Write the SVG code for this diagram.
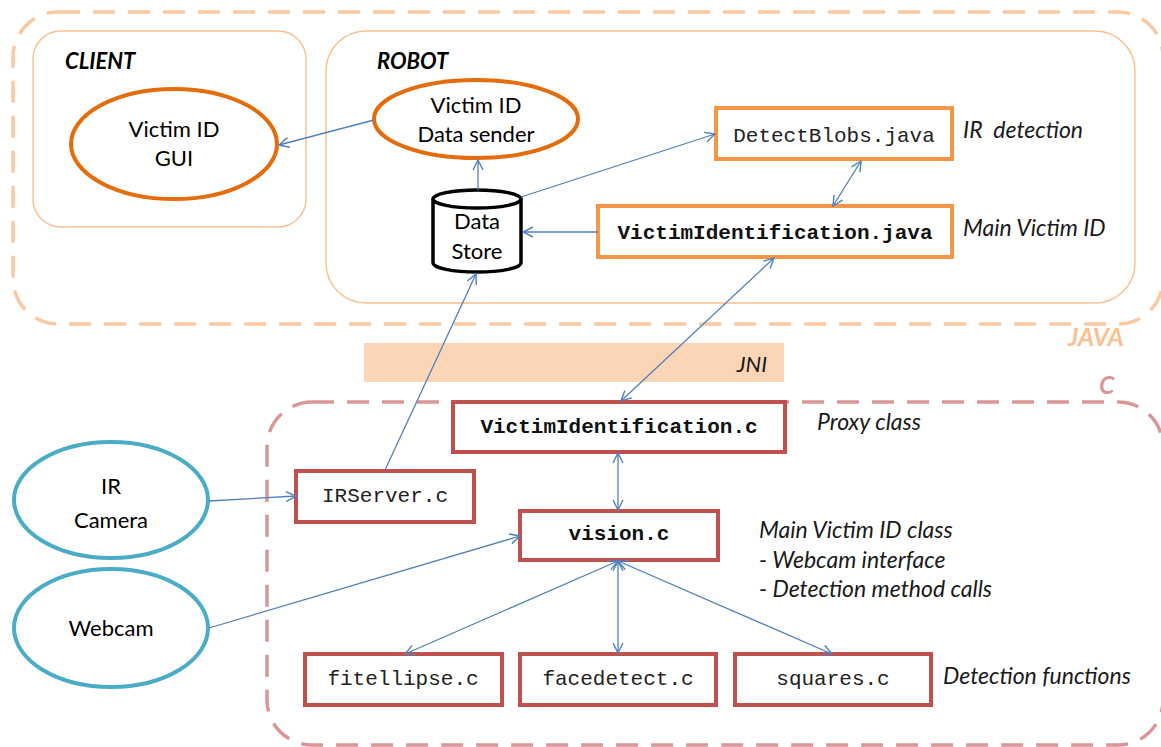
<svg xmlns="http://www.w3.org/2000/svg" width="1161" height="747" viewBox="0 0 1161 747">
<style>
.body{font-family:Lato,"Open Sans","Liberation Sans",sans-serif;font-size:22px;fill:#000}
.ital{font-family:Lato,"Open Sans","Liberation Sans",sans-serif;font-size:23px;font-style:italic;fill:#1a1a1a}
.hdr{font-family:Lato,"Open Sans","Liberation Sans",sans-serif;font-size:22px;font-style:italic;font-weight:bold;fill:#000}
.mono{font-family:"Liberation Mono","Courier New",monospace;font-size:21px;fill:#222}
.monob{font-family:"Liberation Mono","Courier New",monospace;font-size:21px;font-weight:bold;fill:#111}
.orE{fill:#fff;stroke:#E46C0A;stroke-width:4}
.blE{fill:#fff;stroke:#4BACC6;stroke-width:4}
.orB{fill:#fff;stroke:#F79646;stroke-width:4}
.rdB{fill:#fff;stroke:#C0504D;stroke-width:4}
.sub{fill:none;stroke:#FAC090;stroke-width:1.5}
.conn{fill:none;stroke:#4F81BD;stroke-width:1.3}
</style>
<defs>
<marker id="arr" viewBox="0 0 12 12" refX="11" refY="6" markerWidth="12" markerHeight="12" markerUnits="userSpaceOnUse" orient="auto-start-reverse">
<path d="M1,1 L11,6 L1,11" fill="none" stroke="#4F81BD" stroke-width="1.4"/>
</marker>
</defs>

<g id="java-region">
<rect x="13" y="12" width="1150" height="312" rx="45" ry="45" fill="none" stroke="#FAC090" stroke-width="3.5" stroke-dasharray="22 13" opacity="0.85"/>
<text x="1068" y="346" font-family="Lato,'Open Sans','Liberation Sans',sans-serif" font-size="25" font-style="italic" font-weight="bold" fill="#FAC090">JAVA</text>
</g>
<g id="client">
<rect x="33" y="31" width="273" height="196" rx="28" ry="28" class="sub"/>
<text x="65" y="69" class="hdr">CLIENT</text>
</g>
<g id="robot">
<rect x="326" y="31" width="809" height="272" rx="40" ry="40" class="sub"/>
<text x="377" y="69" class="hdr">ROBOT</text>
</g>

<g id="jni">
<rect x="364" y="343" width="420" height="39" fill="#FBD5B5"/>
<text x="767" y="372" text-anchor="end" font-family="Lato,'Open Sans','Liberation Sans',sans-serif" font-size="22" font-style="italic" fill="#1a1a1a">JNI</text>
</g>

<g id="c-region">
<rect x="267" y="402" width="896" height="343" rx="45" ry="45" fill="none" stroke="#D99694" stroke-width="3.5" stroke-dasharray="22 13"/>
<text x="1099" y="394" font-family="Lato,'Open Sans','Liberation Sans',sans-serif" font-size="25" font-style="italic" font-weight="bold" fill="#D99694">C</text>
</g>

<g id="gui">
<ellipse cx="174" cy="144" rx="103" ry="55" class="orE"/>
<text x="174" y="137" text-anchor="middle" class="body">Victim ID</text>
<text x="174" y="166" text-anchor="middle" class="body">GUI</text>
</g>
<g id="data-sender">
<ellipse cx="476" cy="119" rx="102" ry="39" class="orE"/>
<text x="476" y="113" text-anchor="middle" class="body">Victim ID</text>
<text x="476" y="142" text-anchor="middle" class="body">Data sender</text>
</g>
<g id="data-store">
<path d="M433,199 L433,263 A44,9 0 0 0 521,263 L521,199" fill="#fff" stroke="#000" stroke-width="3.5"/>
<ellipse cx="477" cy="199" rx="44" ry="9" fill="#fff" stroke="#000" stroke-width="3.5"/>
<text x="477" y="229" text-anchor="middle" class="body">Data</text>
<text x="477" y="259" text-anchor="middle" class="body">Store</text>
</g>
<g id="detectblobs">
<rect x="716" y="108" width="236" height="51" class="orB"/>
<text x="834" y="142" text-anchor="middle" class="mono">DetectBlobs.java</text>
<text x="963" y="138" class="ital">IR&#160; detection</text>
</g>
<g id="victimid-java">
<rect x="598" y="206" width="354" height="51" class="orB"/>
<text x="775" y="239" text-anchor="middle" class="monob">VictimIdentification.java</text>
<text x="963" y="236" class="ital">Main Victim ID</text>
</g>

<g id="ir-camera">
<ellipse cx="111" cy="500" rx="97" ry="58" class="blE"/>
<text x="111" y="494" text-anchor="middle" class="body">IR</text>
<text x="111" y="528" text-anchor="middle" class="body">Camera</text>
</g>
<g id="webcam">
<ellipse cx="111" cy="628" rx="97" ry="59" class="blE"/>
<text x="111" y="636" text-anchor="middle" class="body">Webcam</text>
</g>
<g id="victimid-c">
<rect x="453" y="402" width="332" height="50" class="rdB"/>
<text x="619" y="433" text-anchor="middle" class="monob">VictimIdentification.c</text>
<text x="817" y="430" class="ital">Proxy class</text>
</g>
<g id="irserver">
<rect x="296" y="471" width="178" height="51" class="rdB"/>
<text x="385" y="502" text-anchor="middle" class="mono">IRServer.c</text>
</g>
<g id="vision">
<rect x="520" y="511" width="198" height="49" class="rdB"/>
<text x="619" y="540" text-anchor="middle" class="monob">vision.c</text>
<text x="759" y="538" class="ital">Main Victim ID class</text>
<text x="759" y="568" class="ital">- Webcam interface</text>
<text x="759" y="597" class="ital">- Detection method calls</text>
</g>
<g id="fitellipse">
<rect x="305" y="654" width="197" height="51" class="rdB"/>
<text x="403" y="685" text-anchor="middle" class="mono">fitellipse.c</text>
</g>
<g id="facedetect">
<rect x="520" y="654" width="196" height="51" class="rdB"/>
<text x="618" y="685" text-anchor="middle" class="mono">facedetect.c</text>
</g>
<g id="squares">
<rect x="735" y="654" width="196" height="51" class="rdB"/>
<text x="833" y="685" text-anchor="middle" class="mono">squares.c</text>
<text x="943" y="684" class="ital">Detection functions</text>
</g>

<g id="connectors">
<line x1="374" y1="120" x2="279" y2="145" class="conn" marker-end="url(#arr)"/>
<line x1="478" y1="190" x2="478" y2="160" class="conn" marker-end="url(#arr)"/>
<line x1="521" y1="197" x2="715" y2="134" class="conn" marker-end="url(#arr)"/>
<line x1="861" y1="161" x2="833" y2="206" class="conn" marker-start="url(#arr)" marker-end="url(#arr)"/>
<line x1="598" y1="232" x2="523" y2="232" class="conn" marker-end="url(#arr)"/>
<line x1="621" y1="401" x2="774" y2="258" class="conn" marker-start="url(#arr)" marker-end="url(#arr)"/>
<line x1="385" y1="470" x2="476" y2="274" class="conn" marker-end="url(#arr)"/>
<line x1="209" y1="501" x2="296" y2="496" class="conn" marker-end="url(#arr)"/>
<line x1="209" y1="628" x2="520" y2="536" class="conn" marker-end="url(#arr)"/>
<line x1="618" y1="453" x2="618" y2="510" class="conn" marker-start="url(#arr)" marker-end="url(#arr)"/>
<line x1="618" y1="561" x2="405" y2="654" class="conn" marker-start="url(#arr)" marker-end="url(#arr)"/>
<line x1="618" y1="561" x2="618" y2="653" class="conn" marker-start="url(#arr)" marker-end="url(#arr)"/>
<line x1="618" y1="561" x2="832" y2="654" class="conn" marker-start="url(#arr)" marker-end="url(#arr)"/>
</g>
</svg>
